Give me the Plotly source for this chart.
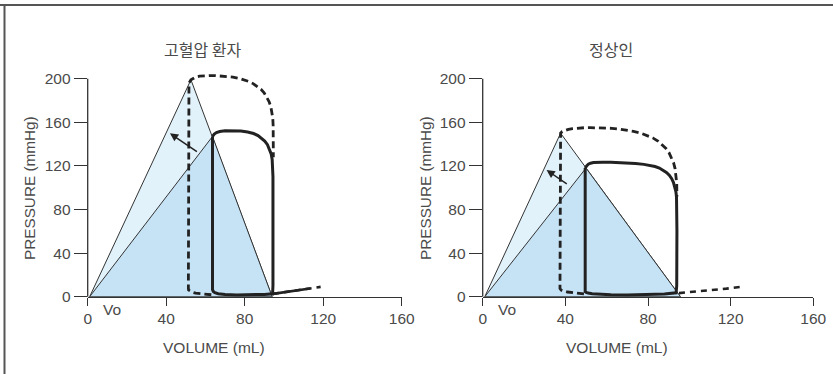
import plotly.graph_objects as go

W, H = 833, 374

# ---------------- data ----------------
titles = ["고혈압 환자", "정상인"]
x_ticks = [0, 40, 80, 120, 160]
y_ticks = [0, 40, 80, 120, 160, 200]
x_title = "VOLUME (mL)"
y_title = "PRESSURE (mmHg)"
vo_label = "Vo"

# Left panel (hypertensive patient)
L_outer_tri_x = [1, 52.6, 94, 1]
L_outer_tri_y = [0, 199, 0, 0]
L_inner_tri_x = [1, 63.6, 94, 1]
L_inner_tri_y = [0, 147, 0, 0]
L_solid_x = [63.6, 63.6, 64.0, 64.8, 66.5, 70, 76, 84, 90, 94.2, 94.4, 94.4, 94.3, 94.0, 93.5, 92.7, 91.6, 90.2, 88.6, 86.8, 84.5, 81.5, 78, 74, 70, 67.3, 65.6, 64.5, 63.6]
L_solid_y = [147, 6.5, 4.8, 3.7, 2.7, 2.0, 1.6, 1.7, 2.1, 2.7, 10, 110, 120, 126, 131, 135.5, 139.5, 142.8, 145.6, 147.8, 149.7, 151.1, 152, 152.3, 152.2, 151.6, 150.6, 149.2, 147]
L_dash_x = [63, 58, 55, 53.2, 52.0, 51.4, 51.3, 51.3, 51.6, 52.6, 53.6, 55, 57, 59.5, 62, 65, 68, 71, 74, 77, 79.5, 82, 84.3, 86.4, 88.3, 89.9, 91.3, 92.4, 93.3, 93.9, 94.3, 94.5, 94.6, 94.6]
L_dash_y = [1.8, 2.3, 3.2, 4.2, 5.3, 6.3, 8, 190, 196, 199, 200.4, 201.5, 202.3, 202.7, 202.8, 202.8, 202.6, 202.2, 201.5, 200.4, 199.2, 197.5, 195.5, 193, 190.2, 187, 183.2, 179, 174.5, 169.5, 164, 157, 145, 128]
L_edpvr_x = [94.4, 104, 113.3, 118.7]
L_edpvr_y = [2.6, 4.8, 7.6, 9.0]
L_edpvr_solid_x = [94.4, 104, 113.3]
L_edpvr_solid_y = [2.6, 4.8, 7.6]
L_arrow_tail = [56.4, 132.1]
L_arrow_head = [41.9, 149.9]

# Right panel (normal)
R_outer_tri_x = [1, 37.7, 95.7, 1]
R_outer_tri_y = [0, 150, 0, 0]
R_inner_tri_x = [1, 50.0, 95.7, 1]
R_inner_tri_y = [0, 118, 0, 0]
R_solid_x = [49.6, 49.6, 50.1, 51, 53, 55, 62, 70, 80, 88, 93.6, 93.9, 94, 93.95, 93.8, 93.5, 93.0, 92.3, 91.4, 90.3, 88.9, 87.3, 85.5, 83.4, 81, 78, 74, 70, 66, 62, 58, 55.5, 53.6, 52.2, 51.1, 50.3, 49.6]
R_solid_y = [118, 4.6, 3.9, 3.3, 2.8, 2.5, 1.8, 1.6, 1.8, 2.5, 3.6, 10, 60, 86, 91.5, 96.5, 101, 105, 108.5, 111.5, 114, 116.2, 118, 119.4, 120.5, 121.4, 122.2, 122.8, 123.1, 123.3, 123.4, 123.4, 123.1, 122.5, 121.5, 120, 118]
R_dash_x = [49, 47, 44, 41, 39.2, 38.0, 37.4, 37.4, 37.5, 37.7, 38.5, 39.8, 41.5, 43.5, 46, 49, 52, 55.5, 59, 62.5, 66, 69.5, 73, 76.5, 79.5, 82.3, 84.8, 86.9, 88.7, 90.2, 91.4, 92.4, 93.1, 93.6, 93.9, 94]
R_dash_y = [2.5, 2.8, 3.4, 4.3, 5.1, 6.0, 7.5, 146, 148.5, 150, 151.5, 152.6, 153.5, 154.2, 154.7, 155, 155.1, 155.1, 154.9, 154.5, 153.8, 152.9, 151.7, 150.1, 148.1, 145.7, 142.8, 139.6, 136, 132, 127.7, 122.8, 117.5, 111.5, 104, 92]
R_edpvr_x = [95, 103, 110, 118, 125.8]
R_edpvr_y = [3.3, 4.5, 5.8, 7.4, 9.2]
R_arrow_tail = [41.4, 102.5]
R_arrow_head = [30.9, 116.2]

# axis extents
X_MIN, X_MAX = 0, 160
Y_MIN, Y_MAX = 0, 200
Y_HEADROOM = 210   # drawing room above the last tick so the dashed loop is not clipped

# ---------------- styling ----------------
LIGHT = "#e2f2fb"
MED = "#c6e3f5"
INK = "#222222"
EDGE = "#333333"
TXT = "#4a4a4a"
FONT = "Liberation Sans, Arial, sans-serif"
KFONT = "Noto Sans CJK KR, sans-serif"

fig = go.Figure()

panels = [
    dict(xa="x", ya="y", ot=(L_outer_tri_x, L_outer_tri_y), it=(L_inner_tri_x, L_inner_tri_y),
         s=(L_solid_x, L_solid_y), d=(L_dash_x, L_dash_y), e=(L_edpvr_x, L_edpvr_y),
         es=(L_edpvr_solid_x, L_edpvr_solid_y), at=L_arrow_tail, ah=L_arrow_head),
    dict(xa="x2", ya="y2", ot=(R_outer_tri_x, R_outer_tri_y), it=(R_inner_tri_x, R_inner_tri_y),
         s=(R_solid_x, R_solid_y), d=(R_dash_x, R_dash_y), e=(R_edpvr_x, R_edpvr_y),
         es=None, at=R_arrow_tail, ah=R_arrow_head),
]

for p in panels:
    kw = dict(xaxis=p["xa"], yaxis=p["ya"], hoverinfo="skip", showlegend=False)
    fig.add_trace(go.Scatter(x=p["ot"][0], y=p["ot"][1], mode="lines", fill="toself",
                             fillcolor=LIGHT, line=dict(color=EDGE, width=1), **kw))
    fig.add_trace(go.Scatter(x=p["it"][0], y=p["it"][1], mode="lines", fill="toself",
                             fillcolor=MED, line=dict(color=EDGE, width=1), **kw))
    fig.add_trace(go.Scatter(x=p["e"][0], y=p["e"][1], mode="lines",
                             line=dict(color=INK, width=2.6, dash="6px,5px"), **kw))
    if p["es"] is not None:
        fig.add_trace(go.Scatter(x=p["es"][0], y=p["es"][1], mode="lines",
                                 line=dict(color=INK, width=2.6), **kw))
    fig.add_trace(go.Scatter(x=p["d"][0], y=p["d"][1], mode="lines",
                             line=dict(color=INK, width=2.8, dash="7px,4px"), **kw))
    fig.add_trace(go.Scatter(x=p["s"][0], y=p["s"][1], mode="lines",
                             line=dict(color=INK, width=3), **kw))
    fig.add_annotation(x=p["ah"][0], y=p["ah"][1], ax=p["at"][0], ay=p["at"][1],
                       xref=p["xa"], yref=p["ya"], axref=p["xa"], ayref=p["ya"],
                       text="", showarrow=True, arrowhead=2, arrowsize=1.1,
                       arrowwidth=1.5, arrowcolor=INK)

def px_x(v):
    return v / W

def px_y(v):
    return 1 - v / H

# pixel anchors of the axes (y=0 at 296.7px, y=200 at 78.7px)
y0_paper = px_y(296.7)
y200_paper = px_y(78.7)
ytop_paper = y0_paper + (y200_paper - y0_paper) * (Y_HEADROOM - Y_MIN) / (Y_MAX - Y_MIN)
ydom = [y0_paper, ytop_paper]
xdoms = [[px_x(87.7), px_x(401.7)], [px_x(482.7), px_x(813.3)]]

axis_common = dict(showgrid=False, zeroline=False,
                   ticks="outside", tickcolor=EDGE, tickwidth=1.2, automargin=False,
                   tickfont=dict(family=FONT, size=15.5, color=TXT), fixedrange=True)

fig.update_layout(
    width=W, height=H, margin=dict(l=0, r=0, t=0, b=0),
    paper_bgcolor="white", plot_bgcolor="white", showlegend=False,
    xaxis=dict(domain=xdoms[0], range=[X_MIN, X_MAX], tickvals=x_ticks, ticklen=8, anchor="y",
               showline=True, linecolor=EDGE, linewidth=1.3, **axis_common),
    yaxis=dict(domain=ydom, range=[Y_MIN, Y_HEADROOM], tickvals=y_ticks, ticklen=13, anchor="x",
               showline=False, **axis_common),
    xaxis2=dict(domain=xdoms[1], range=[X_MIN, X_MAX], tickvals=x_ticks, ticklen=8, anchor="y2",
                showline=True, linecolor=EDGE, linewidth=1.3, **axis_common),
    yaxis2=dict(domain=ydom, range=[Y_MIN, Y_HEADROOM], tickvals=y_ticks, ticklen=13, anchor="x2",
                showline=False, **axis_common),
)

# y axis lines that stop at the last tick (200)
for xd in xdoms:
    fig.add_shape(type="line", xref="paper", yref="paper", x0=xd[0], x1=xd[0],
                  y0=y0_paper, y1=y200_paper, line=dict(color=EDGE, width=1.3))

# Titles, axis titles, Vo labels
for cx, t in zip([202, 611], titles):
    fig.add_annotation(x=px_x(cx), y=px_y(49), xref="paper", yref="paper", text=t, showarrow=False,
                       xanchor="center", yanchor="middle", font=dict(family=KFONT, size=16, color=TXT))
for cx in [214, 617]:
    fig.add_annotation(x=px_x(cx), y=px_y(347), xref="paper", yref="paper", text=x_title, showarrow=False,
                       xanchor="center", yanchor="middle", font=dict(family=FONT, size=15.5, color=TXT))
for cx in [29, 425]:
    fig.add_annotation(x=px_x(cx), y=px_y(188), xref="paper", yref="paper", text=y_title, showarrow=False,
                       textangle=-90, xanchor="center", yanchor="middle",
                       font=dict(family=FONT, size=15.3, color=TXT))
for cx in [112, 507]:
    fig.add_annotation(x=px_x(cx), y=px_y(309), xref="paper", yref="paper", text=vo_label, showarrow=False,
                       xanchor="center", yanchor="middle", font=dict(family=FONT, size=15.5, color=TXT))

# Frame (top and left rules)
fig.add_shape(type="line", xref="paper", yref="paper", x0=0, x1=1, y0=px_y(5), y1=px_y(5),
              line=dict(color="#555555", width=2))
fig.add_shape(type="line", xref="paper", yref="paper", x0=px_x(4.5), x1=px_x(4.5), y0=0, y1=px_y(5),
              line=dict(color="#555555", width=2))

fig.write_html("out.html")
